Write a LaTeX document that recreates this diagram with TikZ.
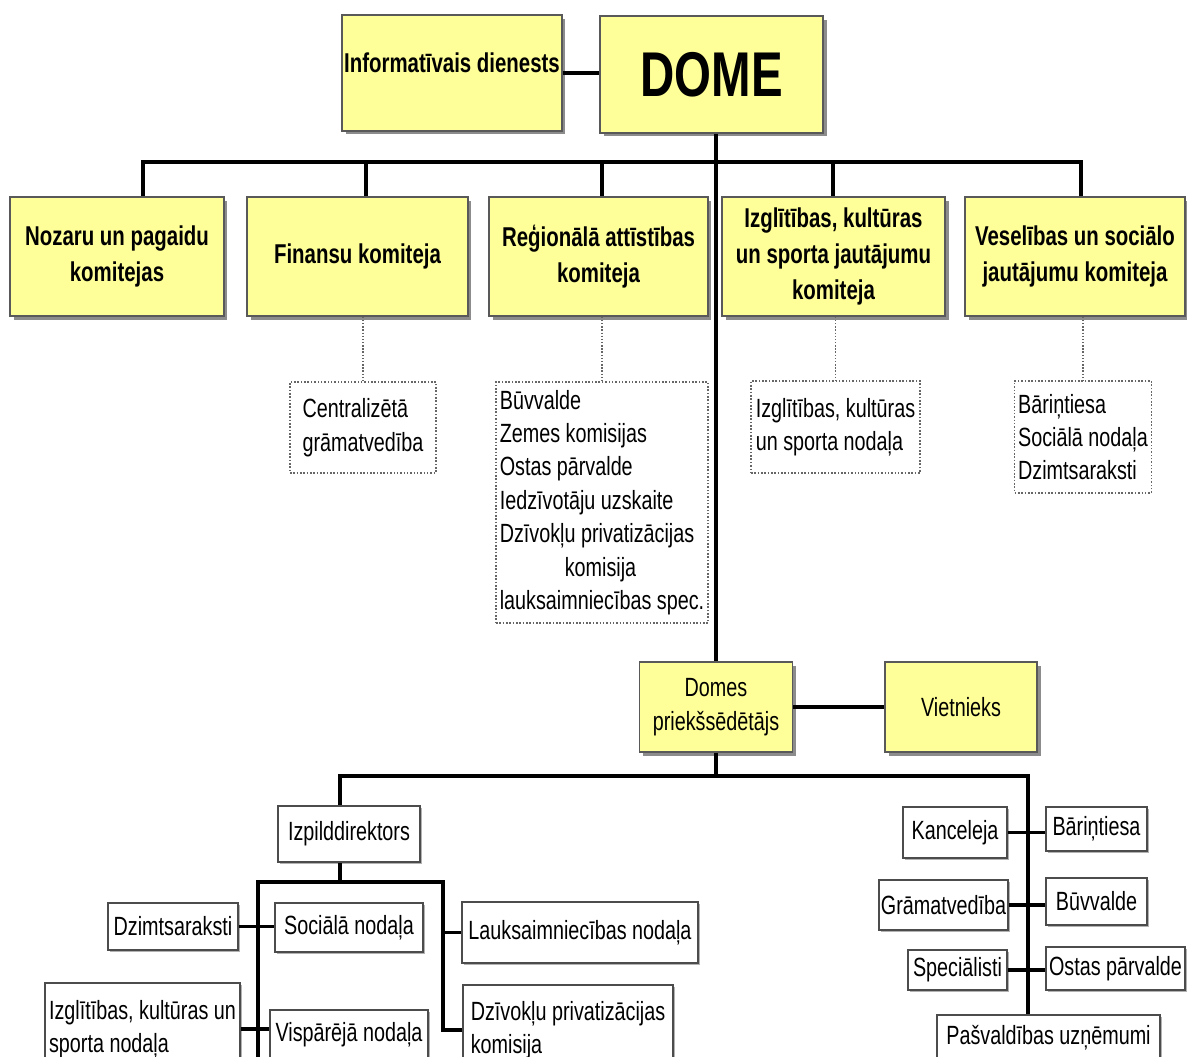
\documentclass[tikz,border=0pt]{standalone}
\usepackage{fontspec}
\setmainfont[FakeStretch=0.75]{Liberation Sans}
\usetikzlibrary{shadows}
\definecolor{boxyellow}{RGB}{255,255,153}
\newcommand{\bigfont}{\fontsize{15.5}{20.5}\selectfont\bfseries}
\newcommand{\smallfont}{\fontsize{15}{19}\selectfont}

\begin{document}
\begin{tikzpicture}[x=0.02cm,y=-0.02cm,
	ybox/.style={draw=black!65,line width=0.8pt,fill=boxyellow,inner sep=1pt,align=center,font=\bigfont,
		drop shadow={shadow xshift=2pt,shadow yshift=-2pt,fill=black!45,opacity=1}},
	dbox/.style={draw=black!60,densely dotted,line width=0.9pt,inner sep=2pt,align=left,font=\smallfont},
	wbox/.style={draw=black!70,line width=1pt,fill=white,inner sep=1pt,align=center,font=\smallfont,
		drop shadow={shadow xshift=1pt,shadow yshift=-1pt,fill=black!30,opacity=1}},
	bus/.style={line width=2.2pt,line join=miter},
	dots/.style={densely dotted,draw=black!60,line width=0.8pt}]
	\clip (0,0) rectangle (1187,1057);

	\node[ybox,minimum width=4.40cm,minimum height=2.32cm] (info) at (452,73) {Informatīvais dienests\\[-0.32cm]};
	\node[ybox,minimum width=4.46cm,minimum height=2.34cm,font=\fontsize{36}{40}\selectfont\bfseries] (dome) at (711.5,74.5) {DOME};

	\node[ybox,minimum width=4.28cm,minimum height=2.38cm] (nozaru) at (117,256.5) {Nozaru un pagaidu\\komitejas};
	\node[ybox,minimum width=4.42cm,minimum height=2.38cm] (finansu) at (357.5,256.5) {Finansu komiteja};
	\node[ybox,minimum width=4.38cm,minimum height=2.38cm] (regio) at (598.5,256.5) {Reģionālā attīstības\\komiteja};
	\node[ybox,minimum width=4.46cm,minimum height=2.38cm] (izglit) at (833.5,256.5) {Izglītības, kultūras\\un sporta jautājumu\\komiteja};
	\node[ybox,minimum width=4.40cm,minimum height=2.38cm] (vesel) at (1075,256.5) {Veselības un sociālo\\jautājumu komiteja};

	\node[dbox,minimum width=2.92cm,minimum height=1.82cm] (central) at (363,427.5) {Centralizētā\\grāmatvedība};
	\node[dbox,minimum width=4.24cm,minimum height=4.82cm] (reglist) at (602,502.5) {Būvvalde\\Zemes komisijas\\Ostas pārvalde\\Iedzīvotāju uzskaite\\Dzīvokļu privatizācijas\\\hspace*{1.3cm}komisija\\lauksaimniecības spec.};
	\node[dbox,minimum width=3.38cm,minimum height=1.84cm] (izgldot) at (835.5,427) {Izglītības, kultūras\\un sporta nodaļa};
	\node[dbox,minimum width=2.72cm,minimum height=2.24cm] (veseldot) at (1083,437) {Bāriņtiesa\\Sociālā nodaļa\\Dzimtsaraksti};

	\node[ybox,minimum width=3.06cm,minimum height=1.80cm,font=\smallfont] (prez) at (716,707) {Domes\\priekšsēdētājs};
	\node[ybox,minimum width=3.04cm,minimum height=1.80cm,font=\smallfont] (vietn) at (961,707) {Vietnieks};

	\node[wbox,minimum width=2.84cm,minimum height=1.12cm] (izpild) at (349,834) {Izpilddirektors};
	\node[wbox,minimum width=2.60cm,minimum height=0.94cm] (dzimt) at (173,926.5) {Dzimtsaraksti};
	\node[wbox,minimum width=2.96cm,minimum height=0.98cm] (social) at (349,927.5) {Sociālā nodaļa};
	\node[wbox,minimum width=4.72cm,minimum height=1.22cm] (lauks) at (580,932.5) {Lauksaimniecības nodaļa};
	\node[wbox,minimum width=3.90cm,minimum height=1.84cm,align=left] (izglb) at (142.5,1029) {Izglītības, kultūras un\\sporta nodaļa};
	\node[wbox,minimum width=3.16cm,minimum height=1.00cm] (vispar) at (349,1035) {Vispārējā nodaļa};
	\node[wbox,minimum width=4.20cm,minimum height=1.80cm,align=left] (dzivok) at (568,1030) {Dzīvokļu privatizācijas\\komisija};

	\node[wbox,minimum width=2.08cm,minimum height=1.02cm] (kanc) at (955,832.5) {Kanceleja};
	\node[wbox,minimum width=2.02cm,minimum height=0.88cm] (barin) at (1096.5,829) {Bāriņtiesa};
	\node[wbox,minimum width=2.50cm,minimum height=1.00cm] (gramat) at (943.5,905) {Grāmatvedība};
	\node[wbox,minimum width=2.02cm,minimum height=0.94cm] (buvv) at (1096.5,901.5) {Būvvalde};
	\node[wbox,minimum width=1.98cm,minimum height=0.80cm] (spec) at (957.5,970) {Speciālisti};
	\node[wbox,minimum width=2.78cm,minimum height=0.86cm] (ostas) at (1115.5,968.5) {Ostas pārvalde};
	\node[wbox,minimum width=4.46cm,minimum height=0.92cm] (pasv) at (1048.5,1038) {Pašvaldības uzņēmumi};

	\draw[bus] (info.east) -- (info.east -| dome.west);
	\draw[bus] (dome.south -| prez.north) -- (prez.north);
	\foreach \n/\x in {nozaru/143,finansu/366,regio/602,izglit/833,vesel/1081}
		\coordinate (top\n) at (\x,162);
	\draw[bus] (nozaru.north -| topnozaru) -- (topnozaru) -- (topvesel) -- (topvesel |- vesel.north);
	\foreach \n in {finansu,regio,izglit}
		\draw[bus] (top\n) -- (top\n |- \n.north);

	\draw[dots] (finansu.south -| central.north) -- (central.north);
	\foreach \a/\b in {regio/reglist,izglit/izgldot,vesel/veseldot}
		\draw[dots] (\a.south -| \b.north) -- (\b.north);

	\draw[bus] (prez.east) -- (vietn.west);
	\coordinate (midl) at (340,776);
	\coordinate (midr) at (1028,776);
	\draw[bus] (prez.south) -- (prez.south |- midl);
	\draw[bus] (izpild.north -| midl) -- (midl) -- (midr) -- (pasv.north -| midr);

	\coordinate (ll) at (258,882);
	\coordinate (lr) at (443,882);
	\draw[bus] (izpild.south -| midl) -- (midl |- ll);
	\draw[bus] (ll |- izglb.south) -- (ll) -- (lr) -- (lr |- dzivok.west) -- (dzivok.west);
	\draw[bus] (dzimt.east) -- (dzimt.east -| social.west);
	\draw[bus] (lauks.west) -- (lauks.west -| lr);
	\draw[bus] (izglb.east) -- (izglb.east -| vispar.west);

	\foreach \a/\b in {kanc/barin,gramat/buvv,spec/ostas}
		\draw[bus] (\a.east) -- (\a.east -| \b.west);
\end{tikzpicture}
\end{document}
